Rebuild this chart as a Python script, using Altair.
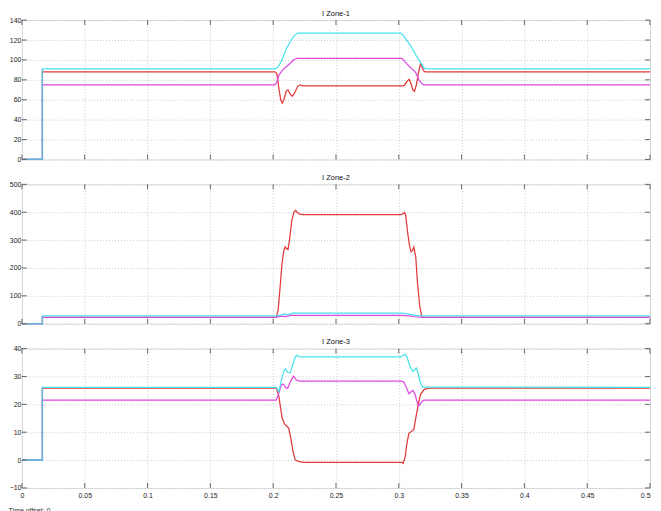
import altair as alt
import pandas as pd

# ---------------- data ----------------
X_TICKS = [0, 0.05, 0.1, 0.15, 0.2, 0.25, 0.3, 0.35, 0.4, 0.45, 0.5]
Y1_TICKS = [0, 20, 40, 60, 80, 100, 120, 140]
Y2_TICKS = [0, 100, 200, 300, 400, 500]
Y3_TICKS = [-10, 0, 10, 20, 30, 40]

# Panel 1: I Zone-1
z1_cyan_t = [0, 0.0163, 0.0163, 0.2015, 0.204, 0.207, 0.210, 0.213, 0.2165, 0.2195, 0.3015, 0.304, 0.308, 0.311, 0.314, 0.317, 0.320, 0.322, 0.5]
z1_cyan_v = [0, 0, 91, 91, 93, 100, 110, 117, 124, 127, 127, 124, 117, 111, 104, 98, 92, 91, 91]
z1_mag_t = [0, 0.0163, 0.0163, 0.2015, 0.203, 0.2047, 0.207, 0.2097, 0.213, 0.2165, 0.219, 0.3025, 0.305, 0.308, 0.3134, 0.316, 0.3185, 0.320, 0.5]
z1_mag_v = [0, 0, 75, 75, 78, 85, 89, 92.5, 96, 100.5, 101.5, 101.5, 98, 94, 87.5, 80, 76, 75, 75]
z1_red_t = [0, 0.0163, 0.0163, 0.2015, 0.203, 0.2045, 0.206, 0.2072, 0.2085, 0.2105, 0.2118, 0.2135, 0.2152, 0.2172, 0.2195, 0.2215, 0.2235,
            0.3025, 0.3045, 0.3065, 0.3082, 0.3098, 0.3112, 0.3125, 0.314, 0.3158, 0.3173, 0.3185, 0.3198, 0.321, 0.5]
z1_red_v = [0, 0, 88, 88, 86, 72, 60, 56.5, 60, 69, 70, 66, 63.5, 67, 73.5, 75, 74,
            74, 74.5, 78.5, 80.5, 76, 70, 68.5, 75, 88, 96.5, 93, 89, 88, 88]
z1_step_t = [0, 0.0163, 0.0163]
z1_step_v = [0, 0, 91]

# Panel 2: I Zone-2
z2_cyan_t = [0, 0.0163, 0.0163, 0.2025, 0.206, 0.209, 0.212, 0.2165, 0.219, 0.302, 0.306, 0.310, 0.314, 0.318, 0.5]
z2_cyan_v = [0, 0, 28, 28, 31, 34, 33, 39, 38, 38, 36, 33, 30, 28, 28]
z2_mag_t = [0, 0.0163, 0.0163, 0.2025, 0.206, 0.210, 0.214, 0.218, 0.302, 0.308, 0.313, 0.318, 0.5]
z2_mag_v = [0, 0, 23, 23, 27, 25.5, 30, 30, 30, 28, 25, 23, 23]
z2_red_t = [0, 0.0163, 0.0163, 0.2025, 0.204, 0.2055, 0.207, 0.2085, 0.2095, 0.2105, 0.2118, 0.213, 0.2148, 0.2165, 0.2178, 0.219, 0.221, 0.224,
            0.3015, 0.3035, 0.3045, 0.3055, 0.307, 0.3085, 0.3098, 0.3108, 0.312, 0.3135, 0.315, 0.3168, 0.3185, 0.5]
z2_red_v = [0, 0, 23, 23, 50, 130, 215, 262, 276, 270, 266, 300, 370, 400, 407, 400, 393, 391,
            391, 395, 399, 390, 330, 280, 258, 262, 275, 240, 140, 60, 23, 23]
z2_step_t = [0, 0.0163, 0.0163]
z2_step_v = [0, 0, 28]

# Panel 3: I Zone-3
z3_cyan_t = [0, 0.0163, 0.0163, 0.2025, 0.2045, 0.2065, 0.2085, 0.2097, 0.2115, 0.2136, 0.2155, 0.2175, 0.2189, 0.221,
             0.3015, 0.3035, 0.305, 0.3065, 0.309, 0.3113, 0.3128, 0.314, 0.3155, 0.317, 0.319, 0.5]
z3_cyan_v = [0, 0, 26.1, 26.1, 24.5, 28.5, 32, 32.8, 31.5, 31.3, 34, 37, 37.6, 37,
             37, 37.6, 38, 37, 33.5, 31.8, 32.5, 33, 31, 28, 26.2, 26.1]
z3_mag_t = [0, 0.0163, 0.0163, 0.2025, 0.2045, 0.2065, 0.208, 0.210, 0.2116, 0.2135, 0.2163, 0.2185, 0.221,
            0.302, 0.304, 0.306, 0.308, 0.3098, 0.3113, 0.313, 0.3148, 0.316, 0.3178, 0.3195, 0.3207, 0.5]
z3_mag_v = [0, 0, 21.5, 21.5, 24, 27, 27.3, 26, 25.8, 28, 30.1, 28.7, 28.3,
            28.3, 28, 26, 23.8, 24.5, 25, 23.5, 20.5, 19.5, 20.6, 21.4, 21.5, 21.5]
z3_red_t = [0, 0.0163, 0.0163, 0.2025, 0.2045, 0.2058, 0.2072, 0.209, 0.2105, 0.2123, 0.214, 0.2158, 0.2176, 0.220, 0.224,
            0.3025, 0.3035, 0.305, 0.3065, 0.308, 0.3098, 0.312, 0.3135, 0.3155, 0.3173, 0.320, 0.3236, 0.5]
z3_red_v = [0, 0, 25.8, 25.8, 23, 19, 15, 13, 12.3, 11.5, 8, 3, 0.1, -0.5, -0.8,
            -0.8, -1.2, 1, 6, 9.5, 10.2, 11, 15, 20, 23.5, 25.3, 25.8, 25.8]
z3_step_t = [0, 0.0163, 0.0163]
z3_step_v = [0, 0, 26.1]

SERIES = ["red", "magenta", "cyan", "step"]
COLORS = {"red": "#e23a3a", "magenta": "#e048e0", "cyan": "#45e3ee", "step": "#62b4dc"}

FONT = "Liberation Sans"
W, H, TICK = 631, 140, 5


def make_df(parts):
    rows = []
    for name, ts, vs in parts:
        for i, (t, v) in enumerate(zip(ts, vs)):
            rows.append({"s": name, "t": t, "v": v, "i": i})
    return pd.DataFrame(rows)


def panel(df, title, ydom, yticks, show_xlabels):
    xs = alt.Scale(domain=[0, 0.5], nice=False, zero=False)
    ys = alt.Scale(domain=ydom, nice=False, zero=False)
    main_x = alt.Axis(orient="bottom", ticks=False, values=X_TICKS, grid=True,
                      labels=show_xlabels, format=".2~f", domain=False, title=None,
                      labelPadding=4 if show_xlabels else 0,
                      labelFontSize=7, labelFont=FONT, labelColor="#222",
                      gridColor="#c8c8c8", gridDash=[1, 2], minExtent=0,
                      labelOverlap=False, labelFlush=False,
                      labelAlign=alt.condition("datum.value >= 0.5", alt.value("right"), alt.value("center")))
    main_y = alt.Axis(orient="left", ticks=False, values=yticks, grid=True,
                      format="d", domain=False, title=None, labelPadding=1, minExtent=0,
                      labelFontSize=7, labelFont=FONT, labelColor="#222",
                      gridColor="#c8c8c8", gridDash=[1, 2])
    layers = []
    for name in SERIES:
        layers.append(
            alt.Chart(df).transform_filter(alt.datum.s == name)
            .mark_line(color=COLORS[name], strokeWidth=1.25, interpolate="linear")
            .encode(x=alt.X("t:Q", scale=xs, axis=main_x, title=None),
                    y=alt.Y("v:Q", scale=ys, axis=main_y, title=None),
                    order="i:Q")
        )
    xt = pd.DataFrame({"t": X_TICKS})
    yt = pd.DataFrame({"v": yticks})
    rule = dict(color="#666", strokeWidth=1)
    tick_layers = [
        alt.Chart(xt).mark_rule(**rule).encode(
            x=alt.X("t:Q", scale=xs, axis=main_x, title=None), y=alt.value(0), y2=alt.value(TICK)),
        alt.Chart(xt).mark_rule(**rule).encode(
            x=alt.X("t:Q", scale=xs, axis=main_x, title=None), y=alt.value(H - TICK), y2=alt.value(H)),
        alt.Chart(yt).mark_rule(**rule).encode(
            y=alt.Y("v:Q", scale=ys, axis=main_y, title=None), x=alt.value(0), x2=alt.value(TICK)),
        alt.Chart(yt).mark_rule(**rule).encode(
            y=alt.Y("v:Q", scale=ys, axis=main_y, title=None), x=alt.value(W - TICK), x2=alt.value(W)),
    ]
    return (alt.layer(*layers, *tick_layers)
            .properties(width=W, height=H,
                        title=alt.TitleParams(text=title, fontSize=7.5, fontWeight="normal",
                                              font=FONT, color="#111", offset=-1)))


df1 = make_df([("red", z1_red_t, z1_red_v), ("magenta", z1_mag_t, z1_mag_v),
               ("cyan", z1_cyan_t, z1_cyan_v), ("step", z1_step_t, z1_step_v)])
df2 = make_df([("red", z2_red_t, z2_red_v), ("magenta", z2_mag_t, z2_mag_v),
               ("cyan", z2_cyan_t, z2_cyan_v), ("step", z2_step_t, z2_step_v)])
df3 = make_df([("red", z3_red_t, z3_red_v), ("magenta", z3_mag_t, z3_mag_v),
               ("cyan", z3_cyan_t, z3_cyan_v), ("step", z3_step_t, z3_step_v)])

p1 = panel(df1, "I Zone-1", [0, 140], Y1_TICKS, False)
p2 = panel(df2, "I Zone-2", [0, 500], Y2_TICKS, False)
p3 = panel(df3, "I Zone-3", [-10, 40], Y3_TICKS, True)

chart = (alt.vconcat(p1, p2, p3, spacing=10)
         .properties(padding={"left": 0, "top": 0, "right": 0, "bottom": 0},
                     title=alt.TitleParams(text="Time offset: 0", orient="bottom", anchor="start",
                                           fontSize=7, fontWeight="normal", font=FONT,
                                           color="#333", offset=8))
         .configure_view(stroke="#666", strokeWidth=1)
         .configure(background="white"))

chart.save("out.html", embed_options={"renderer": "svg", "actions": False})
